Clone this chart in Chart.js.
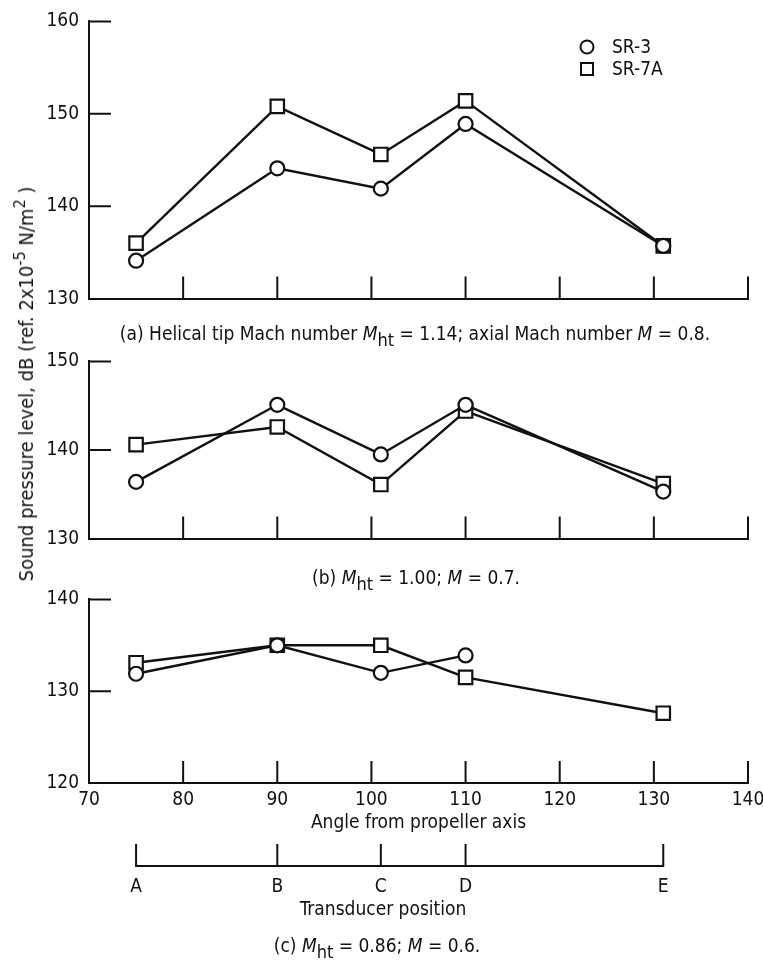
<!DOCTYPE html>
<html>
<head>
<meta charset="utf-8">
<script src="https://cdn.jsdelivr.net/npm/chart.js@4.4.1/dist/chart.umd.min.js"></script>
<style>
  body { margin: 0; background: #fff; overflow: hidden; }
  #page { position: relative; width: 763px; height: 963px; overflow: hidden;
    font-family: "Liberation Sans Narrow", "DejaVu Sans Condensed", sans-serif; color: #111; }
  canvas { position: absolute; left: 0; }
  .cap { position: absolute; white-space: nowrap; font-size: 19px; transform: translate(-50%, -50%); z-index: 2; }
  .cap sub { font-size: 0.95em; vertical-align: -0.35em; line-height: 0; }
  .cap i { font-style: italic; }
  #ytitle { position: absolute; left: 26px; top: 384px; white-space: nowrap; font-size: 20px;
    transform: translate(-50%, -50%) rotate(-90deg); z-index: 2; }
  #ytitle sup { font-size: 0.8em; vertical-align: 0.5em; line-height: 0; }
</style>
</head>
<body>
<div id="page">
  <canvas id="chartA" width="790" height="320" style="top:0px"></canvas>
  <canvas id="chartB" width="790" height="220" style="top:340px"></canvas>
  <canvas id="chartC" width="790" height="260" style="top:578px"></canvas>
  <canvas id="chartD" width="790" height="85" style="top:838px"></canvas>

  <div id="ytitle">Sound pressure level, dB (ref. 2x10<sup>-5</sup> N/m<sup>2</sup> )</div>
  <div class="cap" style="left:415px; top:333px">(a) Helical tip Mach number <i>M</i><sub>ht</sub> = 1.14; axial Mach number <i>M</i> = 0.8.</div>
  <div class="cap" style="left:416px; top:577px">(b) <i>M</i><sub>ht</sub> = 1.00; <i>M</i> = 0.7.</div>
  <div class="cap" style="left:383px; top:908px">Transducer position</div>
  <div class="cap" style="left:377px; top:945px">(c) <i>M</i><sub>ht</sub> = 0.86; <i>M</i> = 0.6.</div>
</div>
<script>
// angle from propeller axis for each transducer
const angles = [75, 90, 101, 110, 131];
const transducerLabels = ['A', 'B', 'C', 'D', 'E'];

// (a) Mht 1.14, M 0.8
const sr3_a = [134.1, 144.1, 141.9, 148.9, 135.7];
const sr7a_a = [136.0, 150.8, 145.6, 151.4, 135.7];
// (b) Mht 1.00, M 0.7
const sr3_b = [136.4, 145.1, 139.5, 145.1, 135.3];
const sr7a_b = [140.6, 142.6, 136.1, 144.4, 136.2];
// (c) Mht 0.86, M 0.6 (no SR-3 point at E)
const sr3_c = [131.9, 135.0, 132.0, 133.9];
const sr7a_c = [133.1, 135.0, 135.0, 131.5, 127.6];

const angleTicks = [70, 140, 10];
const yRangeA = [130, 160];
const yRangeB = [130, 150];
const yRangeC = [120, 140];

const INK = '#111';
const FONT = "'Liberation Sans Narrow', 'DejaVu Sans Condensed', sans-serif";
Chart.defaults.font.family = FONT;
Chart.defaults.font.size = 19;
Chart.defaults.color = INK;

// tick marks that point into the plot, like the original
const innerTicks = {
  id: 'innerTicks',
  defaults: { len: 22, firstX: false, yTicks: true, baseLine: false },
  afterDraw(chart, args, opts) {
    const ctx = chart.ctx;
    const xs = chart.scales.x;
    const ys = chart.scales.y;
    ctx.save();
    ctx.strokeStyle = INK;
    ctx.lineWidth = 2;
    ctx.beginPath();
    xs.ticks.forEach(t => {
      if (t.value === xs.min && !opts.firstX) return;
      const px = xs.getPixelForValue(t.value);
      ctx.moveTo(px, xs.top);
      ctx.lineTo(px, xs.top - opts.len);
    });
    if (opts.yTicks) {
      ys.ticks.forEach(t => {
        if (t.value === ys.min) return;
        const py = ys.getPixelForValue(t.value);
        ctx.moveTo(ys.right, py);
        ctx.lineTo(ys.right + opts.len, py);
      });
    }
    if (opts.baseLine) {
      const first = xs.getPixelForValue(xs.ticks[0].value);
      const last = xs.getPixelForValue(xs.ticks[xs.ticks.length - 1].value);
      ctx.moveTo(first - 1, xs.top);
      ctx.lineTo(last + 1, xs.top);
    }
    ctx.stroke();
    ctx.restore();
  }
};

// small key drawn inside the top panel
const keyBox = {
  id: 'keyBox',
  defaults: { show: false, x: 0, y: 0, gap: 22 },
  afterDraw(chart, args, opts) {
    if (!opts.show) return;
    const ctx = chart.ctx;
    ctx.save();
    ctx.lineWidth = 2;
    ctx.strokeStyle = INK;
    chart.data.datasets.forEach((ds, i) => {
      const cy = opts.y + i * opts.gap;
      ctx.beginPath();
      if (ds.pointStyle === 'rect') ctx.rect(opts.x - 6, cy - 6, 12, 12);
      else ctx.arc(opts.x, cy, 6.5, 0, Math.PI * 2);
      ctx.fillStyle = '#fff';
      ctx.fill();
      ctx.stroke();
      ctx.fillStyle = INK;
      ctx.font = '19px ' + FONT;
      ctx.textBaseline = 'middle';
      ctx.fillText(ds.label, opts.x + 25, cy + 1);
    });
    ctx.restore();
  }
};

Chart.register(innerTicks, keyBox);

function series(label, values, style) {
  return {
    label: label,
    data: values.map((v, i) => ({ x: angles[i], y: v })),
    showLine: true,
    borderColor: INK,
    borderWidth: 2.4,
    backgroundColor: '#fff',
    pointStyle: style,
    pointRadius: style === 'rect' ? 9.5 : 7,
    pointBorderWidth: 2.2,
    pointBackgroundColor: '#fff',
    pointBorderColor: INK
  };
}

function panel(id, sr3, sr7a, yRange, opt) {
  return new Chart(document.getElementById(id), {
    type: 'scatter',
    data: { datasets: [series('SR-3', sr3, 'circle'), series('SR-7A', sr7a, 'rect')] },
    options: {
      responsive: false,
      devicePixelRatio: 1,
      animation: false,
      layout: { padding: { left: 0, right: 42, top: opt.top, bottom: 0 } },
      scales: {
        x: {
          type: 'linear',
          min: angleTicks[0],
          max: angleTicks[1],
          grid: { display: false, drawTicks: false },
          border: { display: true, color: INK, width: 2 },
          ticks: { stepSize: angleTicks[2], display: opt.xLabels, padding: 6, autoSkip: false },
          title: {
            display: opt.xLabels,
            text: 'Angle from propeller axis',
            font: { size: 19 },
            padding: { top: 0, bottom: 4 }
          },
          afterFit: s => { s.height = opt.xHeight; }
        },
        y: {
          min: yRange[0],
          max: yRange[1],
          grid: { display: false, drawTicks: false },
          border: { display: true, color: INK, width: 2 },
          ticks: { stepSize: 10, padding: 10 },
          afterFit: s => { s.width = 89; }
        }
      },
      plugins: {
        legend: { display: false },
        tooltip: { enabled: false },
        keyBox: opt.key ? { show: true, x: 587, y: 47, gap: 22 } : { show: false }
      }
    }
  });
}

panel('chartA', sr3_a, sr7a_a, yRangeA, { top: 19, xHeight: 16, xLabels: false, key: true });
panel('chartB', sr3_b, sr7a_b, yRangeB, { top: 14, xHeight: 15, xLabels: false, key: false });
panel('chartC', sr3_c, sr7a_c, yRangeC, { top: 15, xHeight: 55, xLabels: true, key: false });

// transducer position scale under the bottom panel
new Chart(document.getElementById('chartD'), {
  type: 'scatter',
  data: { datasets: [] },
  options: {
    responsive: false,
    devicePixelRatio: 1,
    animation: false,
    layout: { padding: { left: 89, right: 42, top: 4, bottom: 0 } },
    scales: {
      x: {
        type: 'linear',
        min: angleTicks[0],
        max: angleTicks[1],
        grid: { display: false, drawTicks: false },
        border: { display: false },
        afterBuildTicks: s => { s.ticks = angles.map(v => ({ value: v })); },
        ticks: { autoSkip: false, padding: 10, callback: (v, i) => transducerLabels[i] },
        afterFit: s => { s.height = 57; }
      },
      y: { display: false, min: 0, max: 1 }
    },
    plugins: {
      legend: { display: false },
      tooltip: { enabled: false },
      innerTicks: { firstX: true, yTicks: false, baseLine: true }
    }
  }
});
</script>
</body>
</html>
